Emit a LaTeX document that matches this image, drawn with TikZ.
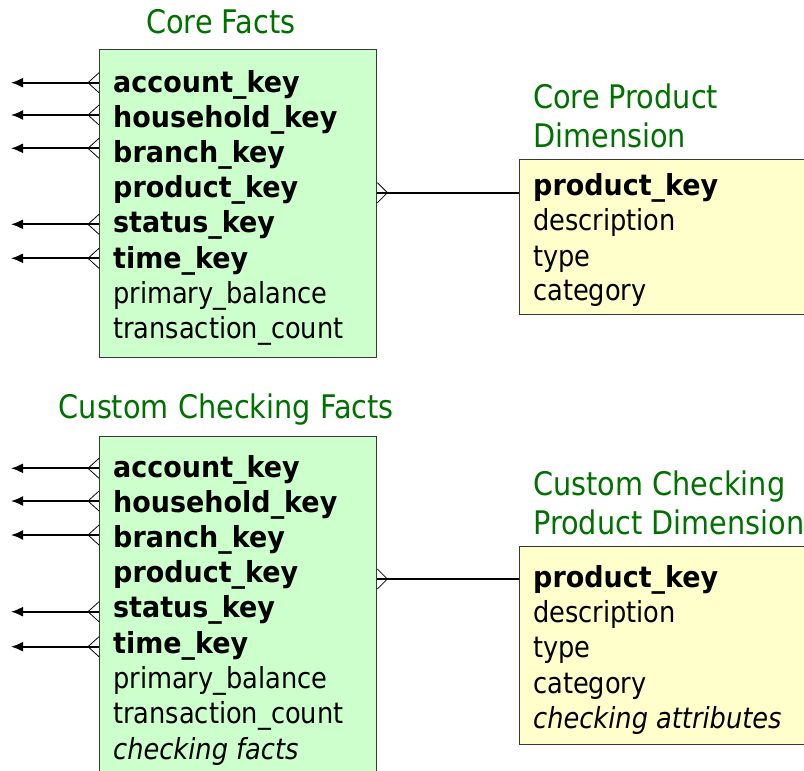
\documentclass[tikz,border=0pt]{standalone}
\usepackage{fontspec}
\setmainfont{DejaVu Sans}[FakeStretch=0.885]
\newfontfamily\keyfamily{DejaVu Sans}[FakeStretch=0.93]
\usetikzlibrary{arrows.meta}
\definecolor{factgreen}{RGB}{204,255,204}
\definecolor{dimyellow}{RGB}{255,255,204}
\definecolor{boxgray}{RGB}{55,55,55}
\definecolor{titlegreen}{RGB}{0,112,0}
\newcommand{\rowfont}{\fontsize{29}{35}\selectfont}
\newcommand{\titlefont}{\fontsize{32.5}{38}\selectfont}
\begin{document}
\begin{tikzpicture}[x=1pt,y=-1pt,
  factbox/.style={draw=boxgray, line width=1.4pt, fill=factgreen, anchor=north west, inner sep=0pt},
  dimbox/.style={draw=boxgray, line width=1.4pt, fill=dimyellow, anchor=north west, inner sep=0pt},
  rowtext/.style={anchor=base west, inner sep=0pt, font=\rowfont},
  keytext/.style={rowtext, font=\rowfont\keyfamily\bfseries},
  noteText/.style={rowtext, font=\rowfont\itshape},
  titletext/.style={anchor=base west, inner sep=0pt, font=\titlefont, text=titlegreen},
  refline/.style={line width=1.8pt, -{Latex[length=12pt,width=10pt]}},
  joinline/.style={line width=1.8pt},
  crowfoot/.style={line width=0.8pt}]
\useasboundingbox (0,0) rectangle (804,771);

% ---------- Core Facts ----------
\node[titletext] (t1) at (146,33) {Core Facts};
\node[factbox, minimum width=277pt, minimum height=308pt] (cf) at (99,49) {};
\node[keytext] (c1) at (113,92) {account\_key};
\node[keytext] (c2) at (113,127.2) {household\_key};
\node[keytext] (c3) at (113,162.4) {branch\_key};
\node[keytext] (c4) at (113,197.6) {product\_key};
\node[keytext] (c5) at (113,232.8) {status\_key};
\node[keytext] (c6) at (113,268) {time\_key};
\node[rowtext] (c7) at (113,303.2) {primary\_balance};
\node[rowtext] (c8) at (113,338.4) {transaction\_count};

% ---------- Core Product Dimension ----------
\node[titletext] (t2) at (533,108.5) {Core Product};
\node[titletext] (t3) at (533,147.5) {Dimension};
\node[dimbox, minimum width=300pt, minimum height=155pt] (cd) at (519,159) {};
\node[keytext] (d1) at (533,195) {product\_key};
\node[rowtext] (d2) at (533,230.5) {description};
\node[rowtext] (d3) at (533,266) {type};
\node[rowtext] (d4) at (533,300.5) {category};

% ---------- Custom Checking Facts ----------
\node[titletext] (t4) at (58.5,418) {Custom Checking Facts};
\node[factbox, minimum width=277pt, minimum height=360pt] (kf) at (99,436) {};
\node[keytext] (k1) at (113,477) {account\_key};
\node[keytext] (k2) at (113,512.2) {household\_key};
\node[keytext] (k3) at (113,547.4) {branch\_key};
\node[keytext] (k4) at (113,582.6) {product\_key};
\node[keytext] (k5) at (113,617.8) {status\_key};
\node[keytext] (k6) at (113,653) {time\_key};
\node[rowtext] (k7) at (113,688.2) {primary\_balance};
\node[rowtext] (k8) at (113,723.4) {transaction\_count};
\node[noteText] (k9) at (113,759.5) {checking facts};

% ---------- Custom Checking Product Dimension ----------
\node[titletext] (t5) at (533,495.5) {Custom Checking};
\node[titletext] (t6) at (533,534.5) {Product Dimension};
\node[dimbox, minimum width=300pt, minimum height=198pt] (kd) at (519,546) {};
\node[keytext] (e1) at (533,587) {product\_key};
\node[rowtext] (e2) at (533,622) {description};
\node[rowtext] (e3) at (533,657.5) {type};
\node[rowtext] (e4) at (533,693) {category};
\node[noteText] (e5) at (533,728) {checking attributes};

% ---------- outgoing references (free ends) ----------
\foreach \n/\y in {a1/82.7, a2/115, a3/148.3, a5/224.3, a6/258.3,
                   b1/468.3, b2/501, b3/535, b5/611.7, b6/646.7}
  \coordinate (\n) at (11,\y);

\foreach \n in {a1,a2,a3,a5,a6}{
  \draw[refline] (cf.west |- \n) -- (\n);
  \draw[crowfoot] (cf.west |- \n) ++(0,-10) -- ++(-11,10) -- ++(11,10);
}
\foreach \n in {b1,b2,b3,b5,b6}{
  \draw[refline] (kf.west |- \n) -- (\n);
  \draw[crowfoot] (kf.west |- \n) ++(0,-10) -- ++(-11,10) -- ++(11,10);
}

% ---------- product joins ----------
\coordinate (j1) at (450,192.7);
\coordinate (j2) at (450,579);
\draw[joinline] (cf.east |- j1) -- (cd.west |- j1);
\draw[crowfoot] (cf.east |- j1) ++(0,-10) -- ++(10,10) -- ++(-10,10);
\draw[joinline] (kf.east |- j2) -- (kd.west |- j2);
\draw[crowfoot] (kf.east |- j2) ++(0,-10) -- ++(10,10) -- ++(-10,10);
\end{tikzpicture}
\end{document}
